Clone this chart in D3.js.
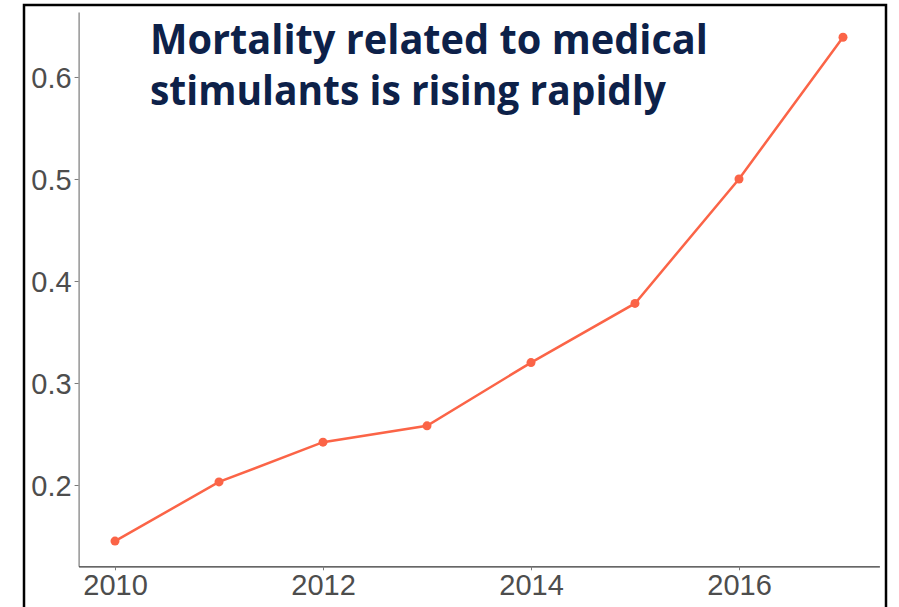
<!DOCTYPE html>
<html>
<head>
<meta charset="utf-8">
<script src="https://cdn.jsdelivr.net/npm/d3@7"></script>
<style>
  html, body { margin: 0; padding: 0; background: #fff; }
  svg { display: block; }
</style>
</head>
<body>
<svg id="chart" width="899" height="607"></svg>
<script>
const years = [2010, 2011, 2012, 2013, 2014, 2015, 2016, 2017];
const mortality = [0.145, 0.203, 0.242, 0.258, 0.320, 0.378, 0.500, 0.639];
const yTicks = [0.2, 0.3, 0.4, 0.5, 0.6];
const xTicks = [2010, 2012, 2014, 2016];
const titleLines = ["Mortality related to medical", "stimulants is rising rapidly"];

const svg = d3.select("#chart");

// frame
svg.append("rect")
  .attr("x", 24).attr("y", 5).attr("width", 862).attr("height", 640)
  .attr("fill", "none").attr("stroke", "#000").attr("stroke-width", 2.5);

// ggplot-like 5% expansion
const yMin = d3.min(mortality), yMax = d3.max(mortality);
const yPad = (yMax - yMin) * 0.05;
const xMin = d3.min(years), xMax = d3.max(years);
const xPad = (xMax - xMin) * 0.05;

const plotL = 78.6, plotR = 879.4, plotT = 12, plotB = 566.3;
const x = d3.scaleLinear().domain([xMin - xPad, xMax + xPad]).range([plotL, plotR]);
const y = d3.scaleLinear().domain([yMin - yPad, yMax + yPad]).range([plotB, plotT]);

// axes
const yAxis = svg.append("g")
  .attr("transform", `translate(${plotL},0)`)
  .call(d3.axisLeft(y).tickValues(yTicks).tickFormat(d3.format(".1f")).tickSize(4).tickPadding(3).tickSizeOuter(0));
yAxis.select(".domain").attr("stroke", "#7a7a7a").attr("stroke-width", 1.2);
yAxis.selectAll(".tick line").attr("stroke", "#7a7a7a");
yAxis.selectAll(".tick text")
  .attr("font-family", "'Liberation Sans', Arial, sans-serif")
  .attr("font-size", 29).attr("fill", "#4d4d4d").attr("dy", "0.36em");

const xAxis = svg.append("g")
  .attr("transform", `translate(0,${plotB})`)
  .call(d3.axisBottom(x).tickValues(xTicks).tickFormat(d3.format("d")).tickSize(4).tickPadding(4).tickSizeOuter(0));
xAxis.select(".domain").attr("stroke", "#333").attr("stroke-width", 1.2);
xAxis.selectAll(".tick line").attr("stroke", "#7a7a7a");
xAxis.selectAll(".tick text")
  .attr("font-family", "'Liberation Sans', Arial, sans-serif")
  .attr("font-size", 29).attr("fill", "#4d4d4d").attr("dy", "0.71em");

// line
const data = years.map((yr, i) => ({ yr, v: mortality[i] }));
const col = "#fb6447";
svg.append("path")
  .datum(data)
  .attr("fill", "none").attr("stroke", col).attr("stroke-width", 2.5)
  .attr("d", d3.line().x(d => x(d.yr)).y(d => y(d.v)));
svg.selectAll("circle.pt").data(data).enter().append("circle")
  .attr("class", "pt")
  .attr("cx", d => x(d.yr)).attr("cy", d => y(d.v)).attr("r", 4.5)
  .attr("fill", col);

// title
const titleWidths = [558, 516];
const baselines = [54, 105];
titleLines.forEach((t, i) => {
  svg.append("text")
    .attr("x", 150).attr("y", baselines[i])
    .attr("font-family", "'Open Sans', Lato, sans-serif")
    .attr("font-weight", 700).attr("font-size", 41)
    .attr("fill", "#0d2149")
    .attr("textLength", titleWidths[i]).attr("lengthAdjust", "spacingAndGlyphs")
    .text(t);
});
</script>
</body>
</html>
